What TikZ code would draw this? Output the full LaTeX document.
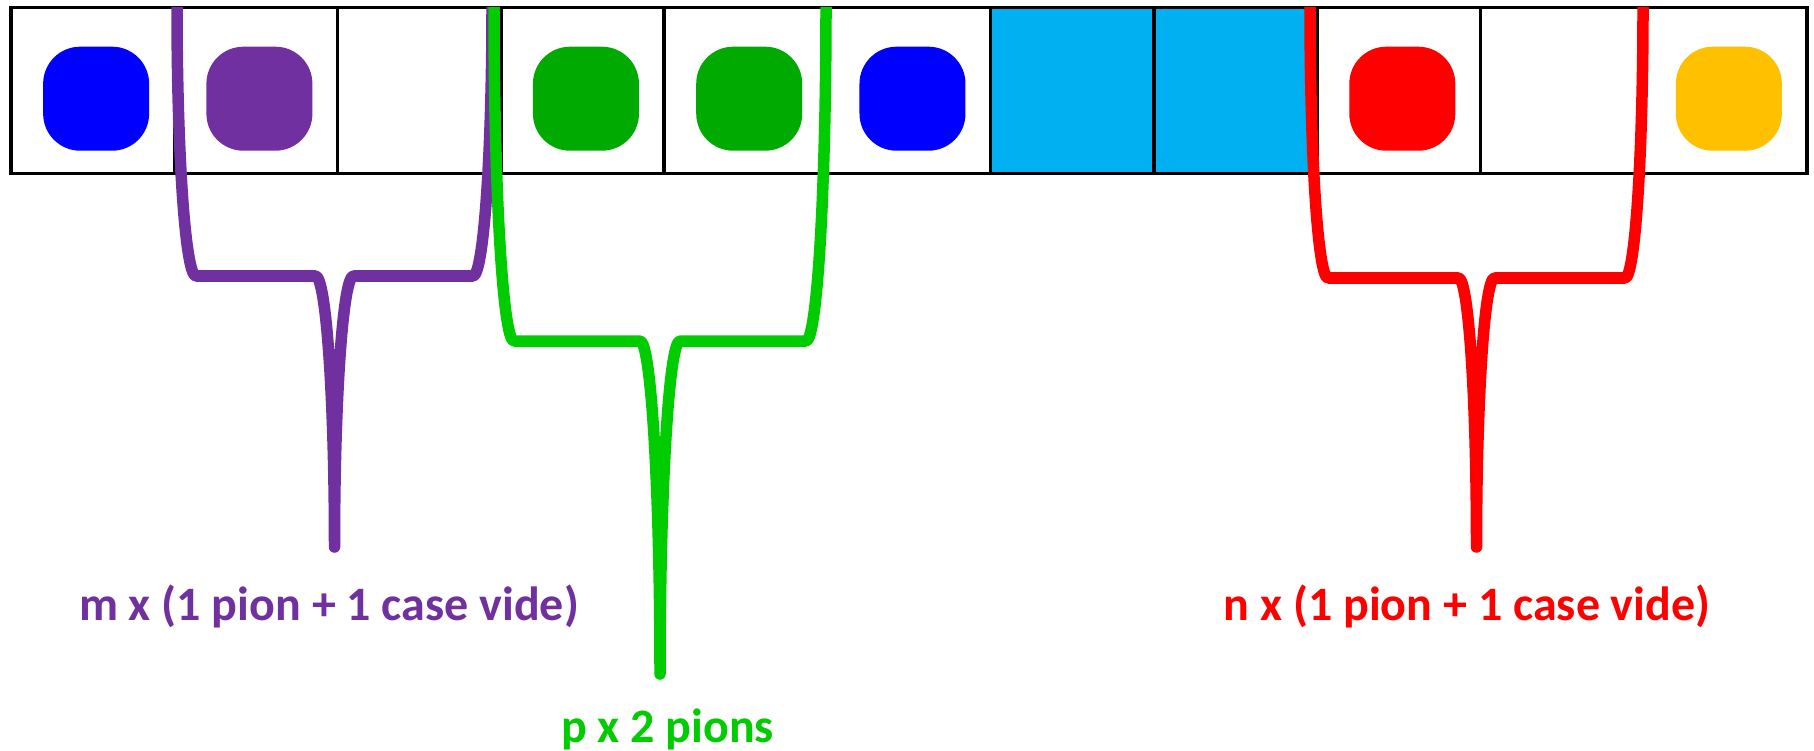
\documentclass[tikz,border=0pt]{standalone}
\usepackage{fontspec}
\setmainfont{Carlito}
\definecolor{cpurple}{HTML}{7030A0}
\definecolor{cgreenbr}{HTML}{00CC00}
\definecolor{cgreendot}{HTML}{00AA00}
\definecolor{cblue}{HTML}{0000FF}
\definecolor{ccyan}{HTML}{00B0F0}
\definecolor{cred}{HTML}{FF0000}
\definecolor{cyellow}{HTML}{FFC000}
% #1 colour, #2 left x, #3 centre x, #4 right x, #5 corner radius, #6 bar y, #7 tip y
\newcommand{\drawbrace}[7]{%
\draw[bracestyle,#1] (#2,7) .. controls (#2,{7+0.5523*(#6-7)}) and ({#2+#5*(1-0.5523)},#6) .. ({#2+#5},#6)
 -- ({#3-#5},#6) .. controls ({#3-#5+0.5523*#5},#6) and (#3,{#7-0.5523*(#7-#6)}) .. (#3,#7)
 .. controls (#3,{#7-0.5523*(#7-#6)}) and ({#3+#5-0.5523*#5},#6) .. ({#3+#5},#6)
 -- ({#4-#5},#6) .. controls ({#4-#5+0.5523*#5},#6) and (#4,{7+0.5523*(#6-7)}) .. (#4,7);}
% rounded pawn: #1 colour, #2 centre x, #3 centre y  (half sizes 53 x 52, radius 37)
\newcommand{\drawpawn}[3]{%
\fill[#1] ({#2+53},{#3-15}) -- ({#2+53},{#3+15})
 .. controls ({#2+53},{#3+15+0.5523*37}) and ({#2+16+0.5523*37},{#3+52}) .. ({#2+16},{#3+52})
 -- ({#2-16},{#3+52})
 .. controls ({#2-16-0.5523*37},{#3+52}) and ({#2-53},{#3+15+0.5523*37}) .. ({#2-53},{#3+15})
 -- ({#2-53},{#3-15})
 .. controls ({#2-53},{#3-15-0.5523*37}) and ({#2-16-0.5523*37},{#3-52}) .. ({#2-16},{#3-52})
 -- ({#2+16},{#3-52})
 .. controls ({#2+16+0.5523*37},{#3-52}) and ({#2+53},{#3-15-0.5523*37}) .. ({#2+53},{#3-15}) -- cycle;}
\begin{document}
\begin{tikzpicture}[x=1pt,y=-1pt,
 cell/.style={draw=black,line width=3.5pt,minimum width=163.27pt,minimum height=166pt,inner sep=0pt,outer sep=0pt},
 bracestyle/.style={line width=11.5pt,line join=round},
 lbl/.style={font=\bfseries\fontsize{48}{58}\selectfont,inner sep=0pt,anchor=base}]
\useasboundingbox[fill=white] (0,0) rectangle (1814,751);
\foreach \i/\f in {1/white,2/white,3/white,4/white,5/white,6/white,7/ccyan,8/ccyan,9/white,10/white,11/white}
  \node[cell,fill=\f] (c\i) at ({11+163.27*(\i-0.5)},90.3) {};
\foreach \i/\c in {1/cblue,2/cpurple,4/cgreendot,5/cgreendot,6/cblue,9/cred,11/cyellow}{
  \pgfmathsetmacro{\cx}{11+163.27*(\i-0.5)+3.5}
  \coordinate (d\i) at (\cx,98.7);
  \drawpawn{\c}{\cx}{98.7}
}
\drawbrace{cpurple}{177}{334.5}{492}{19}{276}{547}
\drawbrace{cgreenbr}{494}{660}{826}{20}{341}{674}
\drawbrace{cred}{1310}{1476.5}{1643}{18}{278}{547}
\node[lbl,text=cpurple] (tm) at (329,620.5) {m x (1 pion + 1 case vide)};
\node[lbl,text=cred] (tn) at (1467,620) {n x (1 pion + 1 case vide)};
\node[lbl,text=cgreenbr] (tp) at (667.5,742) {p x 2 pions};
\end{tikzpicture}
\end{document}
